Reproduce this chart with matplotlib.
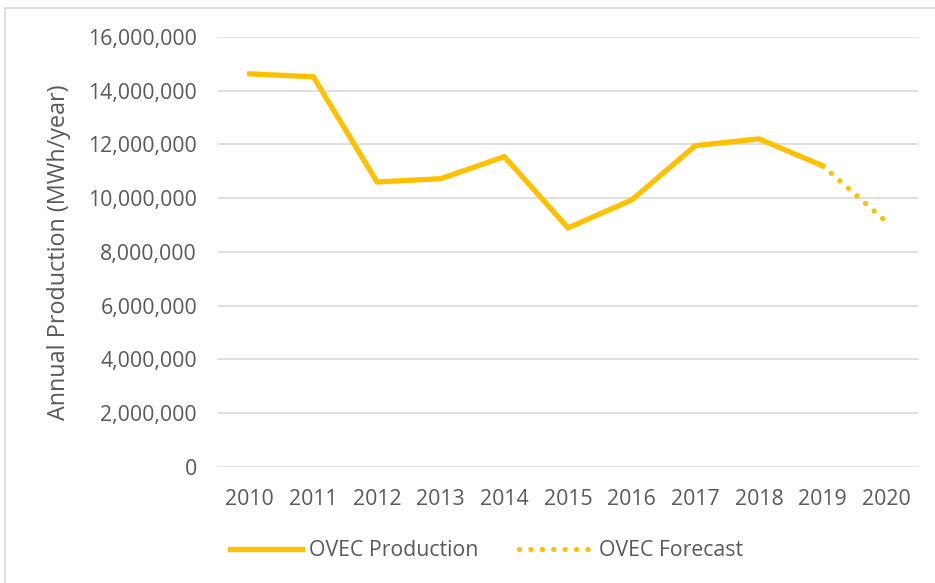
import numpy as np
import matplotlib.pyplot as plt
from matplotlib.patches import Rectangle
from matplotlib.ticker import FuncFormatter

years = ['2010', '2011', '2012', '2013', '2014', '2015', '2016',
         '2017', '2018', '2019', '2020']
production = [14620000, 14510000, 10600000, 10720000, 11540000, 8890000,
              9930000, 11950000, 12200000, 11200000]
forecast_years = ['2019', '2020']
forecast = [11200000, 9120000]

gold = '#FFC000'
grey = '#595959'
plt.rcParams['font.family'] = ['Open Sans', 'DejaVu Sans']

fig = plt.figure(figsize=(9.35, 5.83), dpi=100)
ax = fig.add_axes([0.233, 0.199, 0.749, 0.738])

x_prod = [years.index(y) for y in years[:len(production)]]
x_fc = [years.index(y) for y in forecast_years]
ax.plot(x_prod, production, color=gold, lw=3.8, solid_joinstyle='miter',
        label='OVEC Production')
ax.plot(x_fc, forecast, color=gold, lw=3.8, ls=(0, (0.01, 2.15)),
        dash_capstyle='round', label='OVEC Forecast')

ax.set_xlim(-0.5, len(years) - 0.5)
ax.set_ylim(0, 16000000)
ax.set_yticks(np.arange(0, 16000001, 2000000))
ax.yaxis.set_major_formatter(FuncFormatter(lambda v, p: '{:,.0f}'.format(v)))
ax.set_xticks(range(len(years)))
ax.set_xticklabels(years)
ax.grid(axis='y', color='#D9D9D9', lw=1.2)
ax.set_axisbelow(True)
for s in ax.spines.values():
    s.set_visible(False)
ax.tick_params(length=0, labelsize=15.3, colors=grey)
ax.tick_params(axis='y', pad=15)
ax.tick_params(axis='x', pad=16)
ax.set_ylabel('Annual Production (MWh/year)', fontsize=16.8, color=grey)
ax.yaxis.set_label_coords(-0.209, 0.5)

leg = fig.legend(loc='center', bbox_to_anchor=(0.52, 0.055), ncol=2,
                 frameon=False, fontsize=15.3, handlelength=3.4,
                 columnspacing=1.9, handletextpad=0.35)
for t in leg.get_texts():
    t.set_color(grey)

fig.patches.append(Rectangle((5 / 935, -0.01), 1.0, 1 - 8 / 583 + 0.01,
                             transform=fig.transFigure, fill=False,
                             edgecolor='#D9D9D9', lw=1.2))

fig.savefig('out.png', dpi=100)
